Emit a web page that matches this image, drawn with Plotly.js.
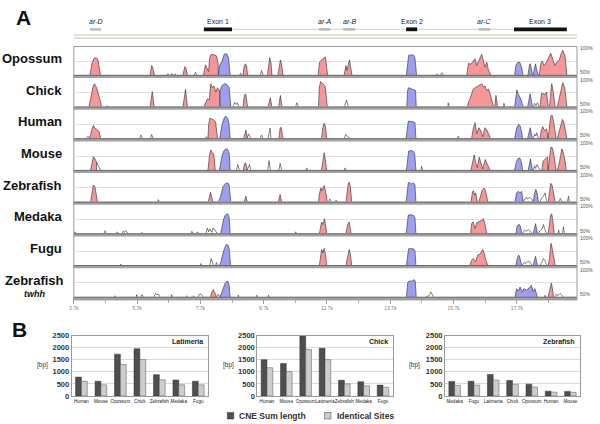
<!DOCTYPE html>
<html><head><meta charset="utf-8">
<script src="https://cdn.plot.ly/plotly-3.0.1.min.js"></script>
<style>html,body{margin:0;padding:0;background:#fff}#chart{width:600px;height:424px}</style>
</head><body><div id="chart"></div>
<script>
// ---------- Panel A: conservation profiles (x in kb, y in % identity) ----------
const xRange = [3.7, 19.6];
const xTickStart = 3.7, xTickStep = 2, xMinorStep = 1;

const opossumRedX = [4.21,4.28,4.34,4.40,4.46,4.54,null,6.11,6.16,6.19,6.25,null,7.15,7.21,7.24,7.29,null,7.80,7.86,7.91,7.96,7.99,8.04,8.13,8.21,8.26,8.27,null,9.05,9.08,9.13,9.16,9.19,null,9.82,9.87,9.89,9.93,9.96,null,10.15,10.20,10.23,10.26,10.31,null,11.42,11.46,11.51,11.56,11.60,11.65,11.72,null,12.24,12.30,12.33,12.38,12.41,12.49,null,16.12,16.17,16.24,16.32,16.38,16.43,16.50,16.59,16.64,16.69,16.75,16.80,16.87,null,18.41,18.45,18.50,18.56,18.64,18.69,18.77,18.83,18.90,18.96,19.04,19.10,19.15,19.22,19.28];
const opossumRedY = [50,72,80,81,78,50,null,50,67,64,50,null,50,65,63,50,null,50,68,62,56,80,87,86,84,70,50,null,50,66,70,66,50,null,50,72,81,72,50,null,50,72,77,70,50,null,50,72,76,78,81,82,50,null,50,67,58,74,77,50,null,50,71,69,76,79,67,75,87,76,64,73,59,50,null,50,70,75,67,73,79,89,79,67,73,77,88,94,85,50];
const opossumBlueX = [8.27,8.30,8.34,8.38,8.45,8.53,8.59,8.64,null,14.21,14.25,14.28,14.39,14.45,14.48,14.53,null,17.63,17.67,17.74,17.80,17.85,17.89,null,18.05,18.10,18.13,18.19,null,18.21,18.26,18.29,18.32,18.38];
const opossumBlueY = [50,66,70,74,87,88,80,50,null,50,78,85,86,85,80,50,null,50,68,73,72,64,50,null,50,68,70,50,null,50,66,70,60,50];
const opossumLineX = [6.65,6.68,6.71,null,6.77,6.80,6.83,null,6.87,6.90,6.93,null,7.50,7.55,7.59,null,8.94,8.97,9.00,null,9.60,9.63,9.68,null,15.13,15.17,15.21,null,15.29,15.33,15.37];
const opossumLineY = [50,52.5,50,null,50,53,50,null,50,52,50,null,50,55,50,null,50,53,50,null,50,58,50,null,50,52,50,null,50,54,50];

const chickRedX = [4.18,4.24,4.31,4.35,4.42,4.50,4.58,null,6.11,6.15,6.18,6.24,null,7.15,7.20,7.23,7.29,null,7.81,7.88,7.92,7.98,8.03,8.08,8.13,8.19,8.24,8.30,8.32,8.32,null,9.05,9.09,9.13,9.19,null,9.84,9.88,9.91,9.96,null,10.17,10.21,10.23,10.28,null,11.43,11.46,11.50,11.56,11.64,11.71,null,16.14,16.17,16.22,16.27,16.32,16.40,16.46,16.54,16.59,16.64,16.69,16.75,16.80,16.85,16.91,16.96,null,17.00,17.04,17.09,null,18.43,18.48,18.53,18.59,18.64,18.69,null,18.73,18.78,18.80,18.83,18.91,null,18.98,19.03,19.10,19.15,19.21,19.28];
const chickRedY = [50,70,86,91,84,68,50,null,50,72,77,50,null,50,76,81,50,null,50,61,64,62,91,84,87,76,84,78,78,50,null,50,70,73,50,null,50,62,66,50,null,50,66,70,50,null,50,85,95,91,87,50,null,50,58.6,64,73,81.6,84.5,87,90,91,85.6,87,79,81.6,74,61.5,50,null,50,70,50,null,50,74,73,72,76,50,null,50,80,91,84,50,null,50,64,82,93,84,50];
const chickBlueX = [8.32,8.32,8.37,8.45,8.53,8.61,8.66,null,14.22,14.25,14.28,14.36,14.44,14.50,14.52,null,17.63,17.67,17.70,17.75,17.82,17.90,null,18.04,18.10,18.12,18.19];
const chickBlueY = [50,78,87,91,90,84,50,null,50,80,84,82,80,79,50,null,50,75,80,72,64,50,null,50,70,73,50];
const chickLineX = [4.74,4.76,4.77,null,8.73,8.78,8.83,8.87,8.91,null,10.71,10.75,10.80,null,12.25,12.30,12.32,12.37,null,15.52,15.53,15.56,null,17.28,17.29,17.32,null,18.22,18.26,18.30,18.35,18.40];
const chickLineY = [50,52,50,null,50,58,54,57,50,null,50,57,50,null,50,62,62,50,null,50,57,50,null,50,56,50,null,50,56,52,57,50];

const humanRedX = [4.20,4.24,4.29,4.32,4.37,4.43,4.50,4.55,null,7.94,7.96,8.00,8.04,8.12,8.18,8.24,null,9.07,9.11,9.14,9.18,null,10.18,10.22,10.25,10.31,null,11.53,11.57,11.61,11.65,11.69,null,16.27,16.32,16.38,16.43,16.50,16.56,16.62,16.69,16.75,16.81,16.87,null,18.43,18.48,18.52,18.57,18.64,18.69,null,18.69,18.74,18.77,18.81,18.86,18.94,null,18.98,19.03,19.10,19.14,19.18,19.22,19.28];
const humanRedY = [50,62,70,73,68,66,62,50,null,50,75,86,85,83,80,50,null,50,63,65,50,null,50,68,70,50,null,50,70,77,72,50,null,50,67,78,58.5,69,64,53,69,65,58.5,50,null,50,66,71,64,67,50,null,50,75,90,92,80,50,null,50,60,72,84,80,70,50];
const humanBlueX = [8.31,8.35,8.39,8.45,8.50,8.56,8.60,8.64,null,14.20,14.24,14.27,14.34,14.42,14.48,14.51,null,17.63,17.69,17.75,17.80,17.85,17.88,null,18.04,18.09,18.12,18.19];
const humanBlueY = [50,64,76,86,90,86,78,50,null,50,76,81,80,80,78,50,null,50,68,75,73,62,50,null,50,66,69,50];
const humanLineX = [4.09,4.15,4.20,null,5.78,5.82,5.88,null,6.12,6.16,6.20,null,7.86,7.89,7.93,null,9.18,9.22,9.27,9.30,null,9.59,9.63,9.68,null,9.84,9.88,9.90,9.93,null,12.25,12.29,12.32,12.37,12.43,null,15.81,15.85,15.89,null,18.22,18.26,18.30,18.33,18.38];
const humanLineY = [50,54,50,null,50,56,50,null,50,57,50,null,50,53,50,null,50,58,53,50,null,50,56,50,null,50,66,68,50,null,50,57,55,52,50,null,50,54,50,null,50,58,54,60,50];

const mouseRedX = [4.23,4.28,4.32,4.37,4.42,4.42,null,7.94,7.99,8.03,8.08,8.12,8.17,null,9.06,9.09,9.13,9.18,null,11.53,11.57,11.61,11.64,11.69,null,16.25,16.29,16.35,16.40,16.45,16.51,16.57,16.62,16.70,16.77,16.85,null,18.49,18.53,18.57,18.62,18.67,18.69,null,18.69,18.73,18.77,18.81,18.86,18.94,null,18.98,19.03,19.09,19.12,19.16,19.21,19.26];
const mouseRedY = [50,68,74,70,64,50,null,50,78,86,80,79,50,null,50,61,63,50,null,50,70,81,72,50,null,50,63,77,63,54.5,73,60,52,69,60,50,null,50,66,68,72,74,50,null,50,75,90,91,80,50,null,50,60,78,88,83,70,50];
const mouseBlueX = [8.30,8.34,8.39,8.45,8.50,8.56,8.61,8.64,null,14.21,14.25,14.28,14.36,14.42,14.47,14.51,null,17.63,17.69,17.75,17.80,17.85,17.88,null,18.06,18.11,18.13,18.19];
const mouseBlueY = [50,64,77,85,88,87,80,50,null,50,78,84,85,84,80,50,null,50,66,71.5,71,63,50,null,50,68,70,50];
const mouseLineX = [4.42,4.48,4.54,null,8.84,8.88,8.93,null,9.18,9.25,9.30,null,9.83,9.87,9.91,null,10.18,10.22,10.27,null,11.03,11.06,11.09,null,12.25,12.27,12.30,null,14.67,14.69,14.72,null,18.22,18.26,18.29,18.34,18.38,18.43];
const mouseLineY = [64,57,50,null,50,60,50,null,50,60,50,null,50,67,50,null,50,62,50,null,50,54,50,null,50,54,50,null,50,57,50,null,50,58,53,60,55,50];

const zebrafishRedX = [4.23,4.28,4.32,4.37,4.41,4.45,null,7.95,8.00,8.02,8.09,null,9.08,9.12,9.14,9.18,null,10.16,10.20,10.22,10.27,null,11.43,11.46,11.51,11.54,11.61,11.65,11.71,null,12.30,12.34,12.37,12.40,12.44,12.48,null,16.25,16.30,16.33,16.36,16.40,16.45,null,16.50,16.55,16.60,16.66,16.71,16.78,null,18.69,18.74,18.77,18.81,18.85,18.91];
const zebrafishRedY = [50,68,80,76,66,50,null,50,65,67,50,null,50,59,60,50,null,50,62,63,50,null,50,64,75,70,79,70,50,null,50,70,82,85,77,50,null,50,68,70,62,66,50,null,50,62,70,74.7,70,50,null,50,70,83,80,70,50];
const zebrafishBlueX = [8.27,8.34,8.42,8.51,8.58,8.61,8.66,null,14.20,14.24,14.27,14.32,14.37,14.43,14.48,14.51,null,17.64,17.69,17.75,17.80,17.85,17.90,null,18.22,18.26,18.30,18.34,18.38];
const zebrafishBlueY = [50,60,77.6,83.5,83,80,50,null,50,78,84,84.5,82,84,80,50,null,50,66,69,66,69,50,null,50,66,72,66,50];
const zebrafishLineX = [6.35,6.37,6.40,null,11.75,11.79,11.83,null,11.95,11.99,12.02,null,17.90,17.99,18.05,18.11,18.18,18.22,null,18.43,18.48,18.54,18.59,18.64,null,19.03,19.07,19.12,null,19.30,19.33,19.36];
const zebrafishLineY = [50,54,50,null,50,55,50,null,50,53,50,null,50,58,55,58,54,50,null,50,56,60,66,50,null,50,56,50,null,50,60,50];

const medakaRedX = [11.46,11.50,11.53,11.57,11.62,11.65,11.69,null,12.30,12.35,12.40,12.46,null,16.24,16.27,16.32,16.38,16.43,16.50,16.59,16.64,16.69,16.75,null,18.69,18.73,18.77,18.80,18.83,18.88];
const medakaRedY = [50,62,70.5,66,76.5,68,50,null,50,65,70.6,50,null,50,67.6,70.6,59,69,70.6,73.5,76.5,67.6,50,null,50,70,83,85,75,50];
const medakaBlueX = [8.34,8.38,8.43,8.48,8.53,8.58,8.61,8.64,null,14.20,14.24,14.27,14.36,14.44,14.48,14.51,null,17.67,17.71,17.77,17.82,17.85,null,18.22,18.26,18.29,18.35];
const medakaBlueY = [50,62,75,82,85,84,78,50,null,50,78,83,83.5,82,78,50,null,50,64,66.5,62,50,null,50,64,67.6,50];
const medakaLineX = [3.71,3.74,3.77,null,4.65,4.69,4.72,null,5.05,5.07,5.10,null,5.22,5.26,5.30,5.34,5.38,5.43,null,5.82,5.85,5.87,null,7.40,7.43,7.47,null,7.58,7.61,7.64,null,7.88,7.92,7.96,8.00,8.06,8.10,8.14,8.18,8.23,null,10.69,10.71,10.74,null,17.88,17.94,18.00,18.07,18.13,18.17,null,18.38,18.43,18.50,18.54,18.57,18.64,null,19.00,19.02,19.04,null,19.14,19.17,19.20];
const medakaLineY = [50,53,50,null,50,55,50,null,50,53,50,null,50,54,52,55,53,50,null,50,52,50,null,50,54,50,null,50,53,50,null,50,60,53,58,52,60,58,55,50,null,50,53,50,null,50,56,54,57,54,50,null,50,55,58,66,60,50,null,50,56,50,null,50,62,50];

const fuguRedX = [11.46,11.50,11.53,11.57,11.61,11.65,11.69,null,12.30,12.35,12.40,12.44,12.48,null,16.22,16.27,16.32,16.40,16.46,16.54,16.62,16.67,16.72,16.78,null,18.69,18.73,18.76,18.78,18.81,18.85,18.91];
const fuguRedY = [50,68,78,72,80,70,50,null,50,68,78,70,50,null,50,59,62,56,68,70,78,71,59,50,null,50,62,80,89,82,70,50];
const fuguBlueX = [8.30,8.35,8.40,8.46,8.52,8.57,8.61,8.65,null,14.21,14.25,14.28,14.36,14.44,14.48,14.51,null,17.67,17.72,17.76,17.80,17.85,null,18.22,18.26,18.29,18.35];
const fuguBlueY = [50,56,68,80,87,86,80,50,null,50,75,79.5,79.5,79,76,50,null,50,64,68,62,50,null,50,62,66,50];
const fuguLineX = [5.16,5.18,5.21,null,7.69,7.71,7.74,null,8.00,8.04,8.07,8.11,null,8.18,8.21,8.24,null,17.86,17.93,17.99,18.05,18.12,18.18,null,18.43,18.50,18.54,18.59,18.64];
const fuguLineY = [50,52,50,null,50,53,50,null,50,62,57,50,null,50,55,50,null,50,55,53,57,55,50,null,50,56,62,58,50];

const twhhRedX = [8.02,8.07,8.11,8.15,8.21,null,18.69,18.73,18.77,18.79,18.82,18.86];
const twhhRedY = [50,60,63,58,50,null,50,62,72,74.7,66,50];
const twhhBlueX = [8.32,8.37,8.42,8.48,8.53,8.58,8.61,8.64,null,14.21,14.25,14.28,14.36,14.42,14.45,14.49,14.52,null,17.64,17.69,17.75,17.80,17.88,17.92,18.01,18.09,18.16,18.22,18.27,18.35];
const twhhBlueY = [50,58,67,74,78,77,70,50,null,50,75,78,79,78.5,81,78,50,null,50,64.7,60.6,67.6,58.8,64.7,61.8,67.6,70.6,58.8,64.7,50];
const twhhLineX = [4.99,5.00,5.02,null,5.67,5.69,5.71,null,5.82,5.85,5.87,5.90,null,6.23,6.28,6.33,6.38,6.42,null,6.77,6.79,6.82,null,7.25,7.27,7.29,null,7.47,7.48,7.50,null,7.63,7.67,7.72,7.79,null,8.21,8.26,8.32,null,8.89,8.90,8.92,null,9.46,9.48,9.50,null,9.84,9.85,9.87,null,14.83,14.89,14.94,14.98,15.02,15.07,null,18.57,18.59,18.61,null,18.91,18.95,19.00,19.06,19.11,19.17];
const twhhLineY = [50,52,50,null,50,54,50,null,50,54,53,50,null,50,56,54,55,50,null,50,54,50,null,50,52,50,null,50,52,50,null,50,55,55,50,null,50,55,50,null,50,53,50,null,50,53,50,null,50,53,50,null,50,52,53,59,55,50,null,50,53,50,null,50,55,52,56,54,50];

// gene annotation (kb)
const featureNames = ['<i>ar-D</i>','Exon 1','<i>ar-A</i>','<i>ar-B</i>','Exon 2','<i>ar-C</i>','Exon 3'];
const featureStart = [4.21, 7.81, 11.45, 12.21, 14.20, 16.50, 17.61];
const featureEnd   = [4.56, 8.70, 11.80, 12.59, 14.55, 16.85, 19.28];
const featureType  = ['ar','exon','ar','ar','exon','ar','exon'];

// ---------- Panel B: bar charts (bp) ----------
const latimeriaCats = ['Human','Mouse','Opossum','Chick','Zebrafish','Medaka','Fugu'];
const latimeriaCNE  = [780, 610, 1730, 1950, 880, 660, 610];
const latimeriaIdent= [610, 460, 1300, 1510, 670, 460, 460];
const chickCats  = ['Human','Mouse','Opossum','Latimeria','Zebrafish','Medaka','Fugu'];
const chickCNE   = [1500, 1340, 2480, 1970, 650, 590, 450];
const chickIdent = [1170, 1010, 1920, 1500, 500, 420, 360];
const zebrafishCats  = ['Medaka','Fugu','Latimeria','Chick','Opossum','Human','Mouse'];
const zebrafishCNE   = [600, 610, 890, 640, 490, 200, 190];
const zebrafishIdent = [440, 450, 660, 480, 370, 160, 150];

// ---------- build ----------
const FONT = 'Liberation Sans, Arial, Helvetica, sans-serif';
const W = 600, H = 424;
const fx = p => p / W, fy = p => 1 - p / H;
const PINK = 'rgb(245,150,152)', BLUE = 'rgb(158,158,238)', OUT = '#2b2b2b';
const plotL = 73.8, plotR = 577, top0 = 47, pitch = 31.7, rowH = 28;

const species = [
  {name:'Opossum', rx:opossumRedX, ry:opossumRedY, bx:opossumBlueX, by:opossumBlueY, lx:opossumLineX, ly:opossumLineY},
  {name:'Chick', rx:chickRedX, ry:chickRedY, bx:chickBlueX, by:chickBlueY, lx:chickLineX, ly:chickLineY},
  {name:'Human', rx:humanRedX, ry:humanRedY, bx:humanBlueX, by:humanBlueY, lx:humanLineX, ly:humanLineY},
  {name:'Mouse', rx:mouseRedX, ry:mouseRedY, bx:mouseBlueX, by:mouseBlueY, lx:mouseLineX, ly:mouseLineY},
  {name:'Zebrafish', rx:zebrafishRedX, ry:zebrafishRedY, bx:zebrafishBlueX, by:zebrafishBlueY, lx:zebrafishLineX, ly:zebrafishLineY},
  {name:'Medaka', rx:medakaRedX, ry:medakaRedY, bx:medakaBlueX, by:medakaBlueY, lx:medakaLineX, ly:medakaLineY},
  {name:'Fugu', rx:fuguRedX, ry:fuguRedY, bx:fuguBlueX, by:fuguBlueY, lx:fuguLineX, ly:fuguLineY},
  {name:'Zebrafish', sub:'twhh', rx:twhhRedX, ry:twhhRedY, bx:twhhBlueX, by:twhhBlueY, lx:twhhLineX, ly:twhhLineY}
];

const traces = [], shapes = [], annotations = [];
const layout = {
  width: W, height: H, margin: {l:0, r:0, t:0, b:0, pad:0},
  paper_bgcolor: '#fff', plot_bgcolor: 'rgba(0,0,0,0)',
  showlegend: false, font: {family: FONT, color: '#222'},
  barmode: 'group', bargap: 0.4, bargroupgap: 0
};

species.forEach((s, i) => {
  const n = i === 0 ? '' : String(i + 1);
  const xa = 'x' + n, ya = 'y' + n;
  const top = top0 + pitch * i, base = top + rowH;
  traces.push({type:'scatter', mode:'lines', x:s.rx, y:s.ry, xaxis:xa, yaxis:ya, fill:'toself',
    fillcolor:PINK, line:{color:OUT, width:0.6}, hoverinfo:'skip'});
  traces.push({type:'scatter', mode:'lines', x:s.bx, y:s.by, xaxis:xa, yaxis:ya, fill:'toself',
    fillcolor:BLUE, line:{color:OUT, width:0.6}, hoverinfo:'skip'});
  traces.push({type:'scatter', mode:'lines', x:s.lx, y:s.ly, xaxis:xa, yaxis:ya,
    line:{color:OUT, width:0.6}, hoverinfo:'skip'});
  const last = i === species.length - 1;
  layout['xaxis' + n] = {
    domain: [fx(plotL), fx(plotR)], range: xRange, anchor: ya, fixedrange: true,
    showgrid: false, zeroline: false, showline: false, visible: last,
    tickmode: 'linear', tick0: xTickStart, dtick: xTickStep, tickformat: '.1f', ticksuffix: 'k',
    ticks: 'outside', ticklen: 6, tickcolor: '#8a8a8a', tickwidth: 0.8,
    tickfont: {size: 5, color: '#777', family: FONT},
    minor: {tick0: xTickStart, dtick: xMinorStep, ticks: 'outside', ticklen: 5, tickcolor: '#9a9a9a', tickwidth: 0.8, showgrid: false}
  };
  layout['yaxis' + n] = {
    domain: [fy(base), fy(top)], range: [50, 100], anchor: xa, fixedrange: true,
    tickmode: 'array', tickvals: [75], showticklabels: false, ticks: '',
    showgrid: true, gridcolor: '#dadada', gridwidth: 0.8, zeroline: false, showline: false
  };
  // baseline bar
  shapes.push({type:'rect', xref:'paper', yref:'paper', x0:fx(plotL), x1:fx(plotR), y0:fy(base+3), y1:fy(base),
    fillcolor:'#a2a2a2', line:{width:0}, layer:'above'});
  shapes.push({type:'line', xref:'paper', yref:'paper', x0:fx(plotL), x1:fx(plotR), y0:fy(base+0.3), y1:fy(base+0.3),
    line:{color:'#6a6a6a', width:1}, layer:'above'});
  // species label
  if (s.sub) {
    annotations.push({xref:'paper', yref:'paper', x:fx(34), y:fy(280), xanchor:'center', yanchor:'middle',
      text:'<b>' + s.name + '</b>', showarrow:false, font:{size:13, color:'#111', family:FONT}});
    annotations.push({xref:'paper', yref:'paper', x:fx(34), y:fy(294), xanchor:'center', yanchor:'middle',
      text:'<b><i>' + s.sub + '</i></b>', showarrow:false, font:{size:9, color:'#111', family:FONT}});
  } else {
    annotations.push({xref:'paper', yref:'paper', x:fx(63.5), y:fy(top + 11.3), xanchor:'right', yanchor:'middle',
      text:'<b>' + s.name + '</b>', showarrow:false, font:{size:13, color:'#111', family:FONT}});
  }
  annotations.push({xref:'paper', yref:'paper', x:fx(578), y:fy(top + 0.8), xanchor:'left', yanchor:'middle',
    text:'100%', showarrow:false, font:{size:5, color:'#555', family:FONT}});
  annotations.push({xref:'paper', yref:'paper', x:fx(578), y:fy(base - 3), xanchor:'left', yanchor:'middle',
    text:'50%', showarrow:false, font:{size:5, color:'#555', family:FONT}});
});

// panel border
shapes.push({type:'rect', xref:'paper', yref:'paper', x0:fx(plotL), x1:fx(plotR), y0:fy(top0 + pitch*7 + rowH + 3), y1:fy(top0 - 0.5),
  line:{color:'#9a9a9a', width:1}, fillcolor:'rgba(0,0,0,0)', layer:'above'});

// gene annotation track
shapes.push({type:'line', xref:'paper', yref:'paper', x0:fx(plotL), x1:fx(plotR), y0:fy(35), y1:fy(35), line:{color:'#c4c4ae', width:1}});
shapes.push({type:'line', xref:'paper', yref:'paper', x0:fx(plotL), x1:fx(plotR), y0:fy(38), y1:fy(38), line:{color:'#c4c4ae', width:1}});
shapes.push({type:'line', xref:'x', yref:'paper', x0:featureEnd[1], x1:featureStart[6], y0:fy(29.3), y1:fy(29.3), line:{color:'#cfcfcf', width:1}});
featureNames.forEach((f, k) => {
  const exon = featureType[k] === 'exon';
  shapes.push({type:'rect', xref:'x', yref:'paper', x0:featureStart[k], x1:featureEnd[k],
    y0:fy(exon ? 31.2 : 30.6), y1:fy(exon ? 27.4 : 28.2), fillcolor: exon ? '#111' : '#b4b4b4', line:{width:0}});
  annotations.push({xref:'x', yref:'paper', x:(featureStart[k] + featureEnd[k]) / 2, y:fy(21.5), xanchor:'center', yanchor:'middle',
    text:f, showarrow:false, font:{size:7, color:'#222', family:FONT}});
});

annotations.push({xref:'paper', yref:'paper', x:fx(23), y:fy(17), xanchor:'center', yanchor:'middle', text:'<b>A</b>',
  showarrow:false, font:{size:21, color:'#111', family:FONT}});
annotations.push({xref:'paper', yref:'paper', x:fx(19), y:fy(329), xanchor:'center', yanchor:'middle', text:'<b>B</b>',
  showarrow:false, font:{size:21, color:'#111', family:FONT}});

// bar charts
const bars = [
  {title:'Latimeria', cats:latimeriaCats, cne:latimeriaCNE, ident:latimeriaIdent, l:71.7, r:208, bp:42.5},
  {title:'Chick', cats:chickCats, cne:chickCNE, ident:chickIdent, l:257.3, r:392.7, bp:228},
  {title:'Zebrafish', cats:zebrafishCats, cne:zebrafishCNE, ident:zebrafishIdent, l:445, r:580, bp:414.5}
];
const barTop = 335.5, barBot = 396;
bars.forEach((b, j) => {
  const n = String(9 + j);
  traces.push({type:'bar', x:b.cats, y:b.cne, xaxis:'x'+n, yaxis:'y'+n, name:'CNE Sum length',
    marker:{color:'#4f4f4f', line:{color:'#2e2e2e', width:0.5}}, hoverinfo:'skip'});
  traces.push({type:'bar', x:b.cats, y:b.ident, xaxis:'x'+n, yaxis:'y'+n, name:'Identical Sites',
    marker:{color:'#cdcdcd', line:{color:'#555', width:0.5}}, hoverinfo:'skip'});
  layout['xaxis'+n] = {domain:[fx(b.l), fx(b.r)], anchor:'y'+n, type:'category', fixedrange:true,
    showline:true, linecolor:'#9a9a9a', linewidth:1, mirror:true, ticks:'', showgrid:false, tickangle:0,
    tickfont:{size:4.6, color:'#222', family:FONT}};
  layout['yaxis'+n] = {domain:[fy(barBot), fy(barTop)], anchor:'x'+n, range:[0,2500], dtick:500, fixedrange:true,
    showline:true, linecolor:'#9a9a9a', linewidth:1, mirror:true, ticks:'', zeroline:false,
    showgrid:true, gridcolor:'#cfcfcf', gridwidth:0.8,
    tickfont:{size:7.5, color:'#333', family:FONT, weight:'bold'}};
  annotations.push({xref:'paper', yref:'paper', x:fx(b.r - 3), y:fy(341.8), xanchor:'right', yanchor:'middle',
    text:'<b>' + b.title + '</b>', showarrow:false, font:{size:7, color:'#222', family:FONT}});
  annotations.push({xref:'paper', yref:'paper', x:fx(b.bp), y:fy(364.5), xanchor:'center', yanchor:'middle',
    text:'[bp]', showarrow:false, font:{size:6.5, color:'#333', family:FONT}});
});

// legend for bars
const legendItems = [
  {label:'CNE Sum length', color:'#4f4f4f', sx:227.3},
  {label:'Identical Sites', color:'#cdcdcd', sx:324.5}
];
legendItems.forEach(it => {
  shapes.push({type:'rect', xref:'paper', yref:'paper', x0:fx(it.sx), x1:fx(it.sx + 6.5), y0:fy(419), y1:fy(412.5),
    fillcolor:it.color, line:{color:'#333', width:0.5}});
  annotations.push({xref:'paper', yref:'paper', x:fx(it.sx + 10), y:fy(415.8), xanchor:'left', yanchor:'middle',
    text:'<b>' + it.label + '</b>', showarrow:false, font:{size:8.5, color:'#333', family:FONT}});
});

layout.shapes = shapes;
layout.annotations = annotations;
Plotly.newPlot('chart', traces, layout, {staticPlot:true, displayModeBar:false});
</script></body></html>
